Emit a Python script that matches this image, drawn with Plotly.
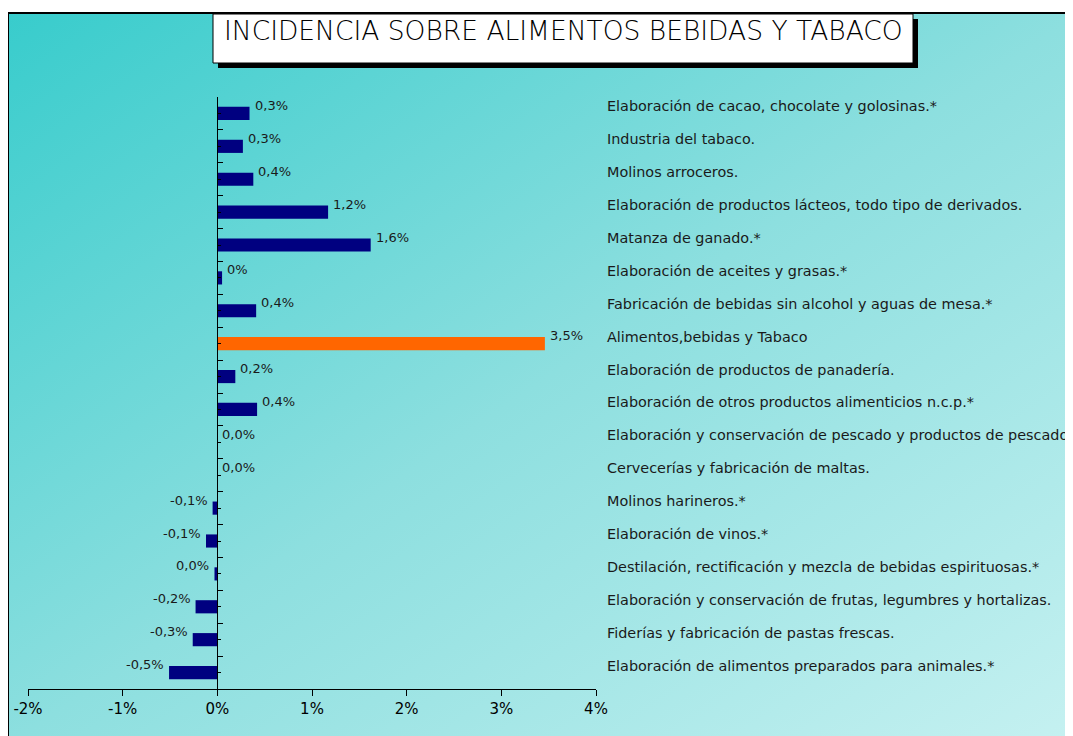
import base64
import plotly.graph_objects as go

# ---------------- data ----------------
categories = [
    "Elaboración de cacao, chocolate y golosinas.*",
    "Industria del tabaco.",
    "Molinos arroceros.",
    "Elaboración de productos lácteos, todo tipo de derivados.",
    "Matanza de ganado.*",
    "Elaboración de aceites y grasas.*",
    "Fabricación de bebidas sin alcohol y aguas de mesa.*",
    "Alimentos,bebidas y Tabaco",
    "Elaboración de productos de panadería.",
    "Elaboración de otros productos alimenticios n.c.p.*",
    "Elaboración y conservación de pescado y productos de pescado.",
    "Cervecerías y fabricación de maltas.",
    "Molinos harineros.*",
    "Elaboración de vinos.*",
    "Destilación, rectificación y mezcla de bebidas espirituosas.*",
    "Elaboración y conservación de frutas, legumbres y hortalizas.",
    "Fiderías y fabricación de pastas frescas.",
    "Elaboración de alimentos preparados para animales.*",
]
values = [0.34, 0.27, 0.38, 1.17, 1.62, 0.05, 0.41, 3.46, 0.19, 0.42,
          0.0, 0.0, -0.05, -0.12, -0.03, -0.23, -0.26, -0.51]
value_labels = ["0,3%", "0,3%", "0,4%", "1,2%", "1,6%", "0%", "0,4%", "3,5%", "0,2%",
                "0,4%", "0,0%", "0,0%", "-0,1%", "-0,1%", "0,0%", "-0,2%", "-0,3%", "-0,5%"]
highlight = "Alimentos,bebidas y Tabaco"
x_tickvals = [-2, -1, 0, 1, 2, 3, 4]
x_ticktext = ["-2%", "-1%", "0%", "1%", "2%", "3%", "4%"]
title_text = "INCIDENCIA SOBRE ALIMENTOS BEBIDAS Y TABACO"

# ---------------- layout geometry (page pixels) ----------------
PAGE_W, PAGE_H = 1073, 736
OFF = 8  # page body margin
W, H = PAGE_W - OFF, PAGE_H  # figure size
PL, PR, PT, PB = 28, 596, 97, 689


def px2x(px):
    return (px - PL) / (PR - PL)


def py2y(py):
    return (PB - py) / (PB - PT)


NAVY = "#000080"
ORANGE = "#FF6600"
FONT = "DejaVu Sans"
TXT = "#1a1a1a"

n = len(categories)
ypos = list(range(n))
colors = [ORANGE if c == highlight else NAVY for c in categories]

fig = go.Figure()
fig.add_trace(go.Bar(
    x=values, y=ypos, orientation="h", width=0.4,
    marker=dict(color=colors, line=dict(width=0)),
    hovertext=categories, hoverinfo="text+x", showlegend=False,
))

annotations = []
for i, (v, lab) in enumerate(zip(values, value_labels)):
    pos = v >= 0
    annotations.append(dict(x=v, y=i, xref="x", yref="y", text=lab, showarrow=False,
                            xanchor="left" if pos else "right", yanchor="middle",
                            xshift=3 if pos else -3, yshift=8,
                            font=dict(family=FONT, size=13, color=TXT)))
for i, c in enumerate(categories):
    annotations.append(dict(x=1, y=i, xref="paper", yref="y", text=c, showarrow=False,
                            xanchor="left", yanchor="middle", xshift=9, yshift=7,
                            font=dict(family=FONT, size=14.4, color=TXT)))

# title
annotations.append(dict(x=px2x(563), y=py2y(30), xref="paper", yref="paper", text=title_text,
                        showarrow=False, xanchor="center", yanchor="middle",
                        font=dict(family=FONT, size=26.5, color="#000000", weight=300)))

# gradient background as svg image
svg = ('<svg xmlns="http://www.w3.org/2000/svg" width="1065" height="723" viewBox="0 0 1065 723" '
       'preserveAspectRatio="none"><defs><linearGradient id="g" x1="0" y1="0" x2="1" y2="1">'
       '<stop offset="0" stop-color="#38cccc"/><stop offset="0.5" stop-color="#8ddfdf"/>'
       '<stop offset="1" stop-color="#c6f1f1"/></linearGradient></defs>'
       '<rect width="1065" height="723" fill="url(#g)"/></svg>')
src = "data:image/svg+xml;base64," + base64.b64encode(svg.encode()).decode()

images = [dict(source=src, xref="paper", yref="paper", x=px2x(8), y=py2y(13),
               sizex=(PAGE_W + 10 - 8) / (PR - PL), sizey=(PAGE_H + 10 - 13) / (PB - PT),
               sizing="stretch", xanchor="left", yanchor="top", layer="below")]

shapes = [
    # frame
    dict(type="line", xref="paper", yref="paper", x0=px2x(8), x1=px2x(8), y0=py2y(13), y1=py2y(PAGE_H + 20),
         line=dict(color="#000000", width=2)),
    dict(type="line", xref="paper", yref="paper", x0=px2x(8), x1=px2x(PAGE_W + 20), y0=py2y(13), y1=py2y(13),
         line=dict(color="#000000", width=2)),
    # title box shadow
    dict(type="rect", xref="paper", yref="paper", x0=px2x(218), x1=px2x(918), y0=py2y(19), y1=py2y(68),
         fillcolor="#000000", line=dict(width=0), layer="above"),
    # title box
    dict(type="rect", xref="paper", yref="paper", x0=px2x(213), x1=px2x(913), y0=py2y(14), y1=py2y(63),
         fillcolor="#ffffff", line=dict(color="#000000", width=1), layer="above"),
]

fig.update_layout(
    width=W, height=H, autosize=False,
    margin=dict(l=PL - OFF, r=W - (PR - OFF), t=PT - OFF, b=H - (PB - OFF), pad=0, autoexpand=False),
    paper_bgcolor="#ffffff", plot_bgcolor="rgba(0,0,0,0)",
    xaxis=dict(range=[-2, 4], tickvals=x_tickvals, ticktext=x_ticktext, automargin=False,
               showgrid=False, zeroline=False, showline=True, linecolor="#000000", linewidth=1,
               ticks="outside", ticklen=6, tickcolor="#000000",
               tickfont=dict(family=FONT, size=15, color="#000000"), fixedrange=True),
    yaxis=dict(range=[n - 0.5, -0.5], showgrid=False, zeroline=False, showline=True, automargin=False,
               linecolor="#000000", linewidth=1, anchor="free", position=2 / 6,
               tickmode="array", tickvals=[k - 0.5 for k in range(n + 1)],
               ticks="inside", ticklen=5, tickcolor="#000000", showticklabels=False,
               minor=dict(tickmode="array", tickvals=ypos, ticks="inside", ticklen=3, tickcolor="#000000"),
               fixedrange=True),
    annotations=annotations, shapes=shapes, images=images,
    font=dict(family=FONT),
)

fig.write_html("out.html")
